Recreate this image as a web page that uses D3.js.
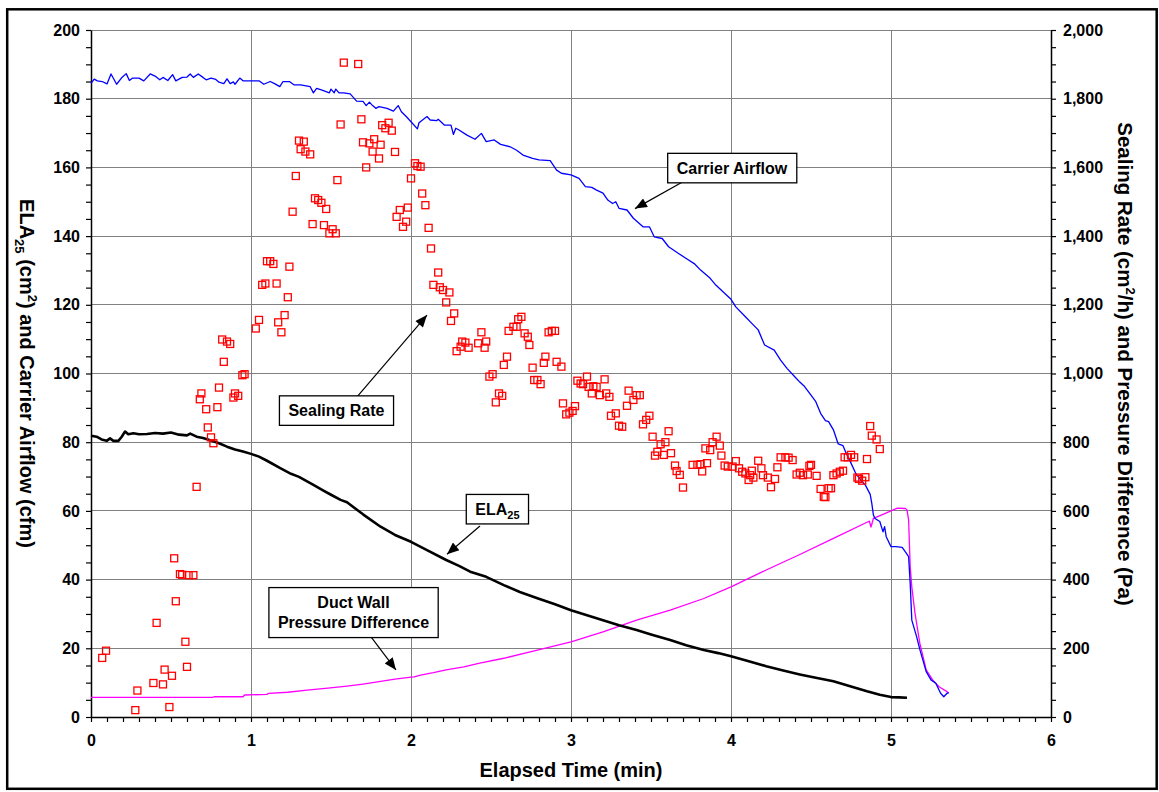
<!DOCTYPE html>
<html>
<head>
<meta charset="utf-8">
<script src="https://cdn.jsdelivr.net/npm/d3@7"></script>
<style>
  html, body { margin: 0; padding: 0; background: #fff; }
  svg { display: block; font-family: "Liberation Sans", Arial, sans-serif; }
</style>
</head>
<body>
<svg id="chart" width="1159" height="792"></svg>
<script>
// ---- Data: time in minutes ----
// Carrier airflow, cfm (left axis)
const carrierAirflow = [
  [0,184.5],[0.02,185.7],[0.04,185.2],[0.07,185.0],[0.1,184.3],[0.125,187.2],[0.145,185.5],[0.16,184.2],
  [0.19,186.0],[0.22,187.3],[0.24,185.3],[0.26,186.0],[0.3,186.0],[0.33,185.2],[0.37,187.2],[0.4,186.6],
  [0.43,185.5],[0.45,186.2],[0.48,185.3],[0.51,187.0],[0.53,185.2],[0.57,186.2],[0.6,186.3],[0.62,187.2],
  [0.64,186.2],[0.67,187.2],[0.7,186.2],[0.72,185.5],[0.75,186.0],[0.78,185.6],[0.8,184.8],[0.83,184.4],
  [0.85,185.8],[0.87,184.4],[0.89,184.9],[0.9,184.2],[0.93,186.0],[0.95,185.2],[1.0,185.2],[1.05,185.2],
  [1.08,184.2],[1.12,185.0],[1.15,184.3],[1.18,183.5],[1.2,185.0],[1.24,185.0],[1.27,184.0],[1.31,184.0],
  [1.37,183.5],[1.39,181.7],[1.41,183.0],[1.44,182.6],[1.49,181.7],[1.5,182.8],[1.52,181.7],[1.53,182.8],
  [1.55,181.7],[1.58,181.7],[1.62,181.4],[1.66,179.3],[1.7,179.2],[1.72,178.0],[1.74,179.0],[1.76,178.0],
  [1.78,177.2],[1.8,177.7],[1.85,177.2],[1.89,176.4],[1.92,178.0],[1.94,176.2],[1.97,174.8],[2.0,173.3],
  [2.04,171.2],[2.05,173.0],[2.1,174.8],[2.12,173.8],[2.16,173.6],[2.17,174.0],[2.21,172.3],[2.25,172.3],
  [2.265,169.6],[2.28,171.4],[2.3,170.9],[2.35,169.4],[2.4,168.2],[2.44,169.9],[2.47,167.5],[2.52,168.0],
  [2.56,166.7],[2.62,166.0],[2.66,165.0],[2.7,163.6],[2.76,162.6],[2.8,162.2],[2.87,162.0],[2.91,159.2],
  [2.94,158.3],[3.0,157.8],[3.05,156.8],[3.09,154.4],[3.13,154.2],[3.16,153.4],[3.2,152.5],[3.23,150.5],
  [3.26,149.5],[3.28,150.0],[3.3,148.1],[3.35,147.6],[3.39,145.2],[3.45,142.7],[3.49,142.7],[3.52,139.8],
  [3.57,139.3],[3.61,136.9],[3.67,135.0],[3.72,133.5],[3.77,132.0],[3.81,130.1],[3.87,127.7],[3.9,126.0],
  [3.95,123.8],[4.0,121.6],[4.03,119.4],[4.09,116.5],[4.13,114.6],[4.17,112.7],[4.21,108.3],[4.27,106.8],
  [4.31,103.9],[4.35,101.5],[4.4,99.0],[4.43,97.5],[4.46,96.2],[4.5,93.7],[4.53,91.8],[4.56,88.4],
  [4.59,86.3],[4.61,86.0],[4.64,83.6],[4.67,79.5],[4.7,79.0],[4.72,76.8],[4.75,73.9],[4.78,70.9],
  [4.81,69.0],[4.84,67.5],[4.87,64.8],[4.88,62.2],[4.89,58.8],[4.9,57.8],[4.93,56.9],[4.95,53.9],
  [4.96,55.4],[4.97,52.5],[5.0,49.6],[5.03,49.6],[5.07,49.4],[5.09,48.1],[5.11,46.7],[5.12,38.9],
  [5.13,28.2],[5.16,23.4],[5.18,19.7],[5.22,13.2],[5.25,10.8],[5.28,9.8],[5.31,6.9],[5.33,5.9],
  [5.35,6.9],[5.36,7.1]
];

// ELA25, cm² (left axis)
const ela25 = [
  [0,81.9],[0.035,81.6],[0.066,80.8],[0.098,80.4],[0.119,81.1],[0.14,80.4],[0.171,80.4],[0.192,81.6],
  [0.213,83.1],[0.233,82.3],[0.265,82.6],[0.3,82.3],[0.35,82.4],[0.4,82.7],[0.45,82.5],[0.5,82.8],
  [0.55,82.2],[0.6,82.0],[0.62,82.5],[0.66,81.6],[0.7,81.2],[0.75,80.5],[0.8,79.7],[0.85,78.7],
  [0.9,77.9],[0.95,77.3],[1.0,76.6],[1.05,75.8],[1.1,74.6],[1.18,72.5],[1.25,70.8],[1.3,69.9],
  [1.39,67.6],[1.45,66.0],[1.5,64.7],[1.56,63.2],[1.6,62.5],[1.7,59.0],[1.81,55.4],[1.9,53.0],
  [2.0,51.0],[2.1,48.6],[2.22,45.7],[2.3,44.0],[2.37,42.3],[2.47,40.8],[2.58,38.4],[2.68,36.4],
  [2.79,34.6],[2.9,32.8],[3.0,31.1],[3.1,29.6],[3.2,28.2],[3.3,26.7],[3.41,25.3],[3.5,24.0],
  [3.62,22.4],[3.72,20.9],[3.83,19.5],[3.92,18.6],[4.0,17.7],[4.1,16.4],[4.22,14.8],[4.32,13.6],
  [4.43,12.4],[4.53,11.4],[4.64,10.4],[4.75,8.9],[4.85,7.5],[4.93,6.5],[5.0,5.8],[5.05,5.7],[5.1,5.6]
];

// Duct wall pressure difference, Pa (right axis)
const pressureDiff = [
  [0,57],[0.76,57],[0.77,59],[0.95,59],[0.96,64],[1.1,66],[1.11,69],[1.23,72],[1.35,78],[1.48,84],
  [1.6,90],[1.7,96],[1.8,103],[1.9,110],[2.0,116],[2.02,117],[2.06,122],[2.14,129],[2.22,137],
  [2.33,146],[2.43,157],[2.58,171],[2.79,195],[3.0,219],[3.2,248],[3.41,282],[3.62,311],[3.83,345],
  [4.0,379],[4.22,428],[4.43,473],[4.64,520],[4.85,567],[4.865,570],[4.875,553],[4.89,578],[4.95,590],
  [5.0,600],[5.04,608],[5.09,607],[5.1,603],[5.11,574],[5.12,438],[5.13,379],[5.15,302],[5.18,215],
  [5.22,137],[5.26,108],[5.3,88],[5.35,74],[5.36,69]
];

// Sealing rate, cm²/h (right axis)
const sealingRate = [
  [0.07,172],[0.094,193],[0.277,20],[0.29,77],[0.39,99],[0.41,274],[0.45,95],[0.46,138],[0.49,29],
  [0.506,120],[0.52,462],[0.53,337],[0.556,416],[0.57,414],[0.59,219],[0.60,146],[0.61,413],[0.64,413],
  [0.66,670],[0.68,925],[0.69,942],[0.72,896],[0.73,843],[0.75,814],[0.765,797],[0.79,902],[0.80,959],
  [0.82,1099],[0.83,1034],[0.85,1093],[0.87,1086],[0.89,930],[0.90,942],[0.92,935],[0.946,995],[0.96,998],
  [1.03,1131],[1.05,1156],[1.07,1258],[1.09,1262],[1.10,1327],[1.12,1327],[1.14,1319],[1.16,1262],
  [1.17,1149],[1.19,1120],[1.21,1170],[1.23,1222],[1.24,1311],[1.26,1471],[1.28,1575],[1.30,1678],
  [1.31,1653],[1.33,1675],[1.34,1646],[1.37,1638],[1.385,1435],[1.40,1510],[1.42,1505],[1.44,1497],
  [1.456,1432],[1.47,1479],[1.49,1408],[1.51,1420],[1.53,1408],[1.54,1563],[1.56,1725],[1.58,1905],
  [1.67,1901],[1.69,1740],[1.70,1673],[1.72,1600],[1.74,1670],[1.76,1646],[1.77,1682],[1.80,1626],
  [1.81,1666],[1.82,1723],[1.84,1714],[1.86,1730],[1.88,1707],[1.90,1645],[1.91,1456],[1.93,1476],
  [1.95,1427],[1.97,1442],[1.98,1483],[2.0,1568],[2.025,1612],[2.04,1604],[2.06,1602],[2.07,1524],
  [2.09,1490],[2.11,1424],[2.125,1364],[2.14,1258],[2.17,1294],[2.18,1251],[2.20,1243],[2.22,1207],
  [2.24,1236],[2.25,1153],[2.27,1175],[2.285,1065],[2.31,1078],[2.32,1093],[2.34,1090],[2.36,1075],
  [2.42,1088],[2.44,1120],[2.46,1075],[2.47,1093],[2.49,991],[2.51,998],[2.53,916],[2.55,942],
  [2.57,935],[2.58,1025],[2.60,1049],[2.61,1124],[2.64,1136],[2.66,1136],[2.67,1158],[2.69,1165],
  [2.71,1117],[2.73,1107],[2.74,1083],[2.76,1017],[2.77,981],[2.79,981],[2.81,969],[2.83,1031],
  [2.84,1049],[2.86,1120],[2.88,1124],[2.90,1124],[2.91,1034],[2.94,1020],[2.95,913],[2.97,881],
  [2.99,886],[3.01,891],[3.025,905],[3.04,979],[3.06,971],[3.075,969],[3.10,991],[3.11,961],
  [3.13,942],[3.14,963],[3.16,961],[3.18,937],[3.21,983],[3.22,942],[3.24,932],[3.25,877],
  [3.28,884],[3.30,848],[3.32,845],[3.35,906],[3.36,950],[3.39,923],[3.41,937],[3.43,937],
  [3.45,852],[3.47,865],[3.49,877],[3.51,816],[3.525,761],[3.54,772],[3.56,794],[3.58,763],
  [3.59,800],[3.61,832],[3.625,768],[3.65,732],[3.66,716],[3.68,705],[3.70,668],[3.76,734],
  [3.79,734],[3.81,736],[3.82,715],[3.84,782],[3.85,739],[3.87,777],[3.885,800],[3.91,816],
  [3.93,790],[3.94,761],[3.96,732],[3.98,729],[4.01,729],[4.03,745],[4.05,724],[4.07,714],
  [4.09,709],[4.11,690],[4.12,704],[4.13,717],[4.14,697],[4.17,746],[4.19,724],[4.20,704],
  [4.23,697],[4.25,669],[4.275,693],[4.29,727],[4.31,756],[4.34,756],[4.36,755],[4.385,748],
  [4.41,706],[4.43,711],[4.45,704],[4.48,706],[4.49,731],[4.50,734],[4.535,702],[4.56,664],
  [4.58,641],[4.59,640],[4.61,666],[4.625,666],[4.64,704],[4.66,709],[4.68,714],[4.70,717],
  [4.71,756],[4.73,756],[4.75,763],[4.77,756],[4.79,697],[4.80,693],[4.82,688],[4.84,698],
  [4.85,751],[4.87,847],[4.88,819],[4.91,808],[4.93,780]
];

// Axis tick values
const xMajorTicks = [0, 1, 2, 3, 4, 5, 6];
const leftMajorTicks = [0, 20, 40, 60, 80, 100, 120, 140, 160, 180, 200];
const rightMajorTicks = [0, 200, 400, 600, 800, 1000, 1200, 1400, 1600, 1800, 2000];

// Callouts: box centre, arrow start and arrow tip in (minutes, left-axis units)
const callouts = [
  { lines: ["Carrier Airflow"], box: [4.006, 159.8], from: [3.694, 155.7], to: [3.40, 148.0] },
  { lines: ["Sealing Rate"], box: [1.534, 89.2], from: [1.6625, 93.2], to: [2.10, 117.0] },
  { lines: ["ELA|25"], box: [2.54, 60.5], from: [2.431, 55.6], to: [2.225, 47.4] },
  { lines: ["Duct Wall", "Pressure Difference"], box: [1.6406, 30.4], from: [1.75, 23.3], to: [1.906, 13.7] }
];

// ---- Layout ----
const plot = { left: 91, right: 1051, top: 30, bottom: 717 };
const svg = d3.select("#chart");
const FONT = '"Liberation Sans", Arial, sans-serif';

const x = d3.scaleLinear().domain([0, 6]).range([plot.left, plot.right]);
const yL = d3.scaleLinear().domain([0, 200]).range([plot.bottom, plot.top]);
const yR = d3.scaleLinear().domain([0, 2000]).range([plot.bottom, plot.top]);

// outer frame
svg.append("rect")
  .attr("x", 7.2).attr("y", 9.3).attr("width", 1149.5).attr("height", 779.5)
  .attr("fill", "#fff").attr("stroke", "#000").attr("stroke-width", 2.5);

// gridlines
const grid = svg.append("g").attr("shape-rendering", "crispEdges")
  .attr("stroke", "#808080").attr("stroke-width", 1);
grid.selectAll("line.h").data(leftMajorTicks.filter(d => d > 0)).join("line")
  .attr("class", "h")
  .attr("x1", plot.left).attr("x2", plot.right)
  .attr("y1", d => yL(d)).attr("y2", d => yL(d));
grid.selectAll("line.v").data(xMajorTicks.filter(d => d > 0 && d < 6)).join("line")
  .attr("class", "v")
  .attr("x1", d => x(d)).attr("x2", d => x(d))
  .attr("y1", plot.top).attr("y2", plot.bottom);

// axes
function styleAxis(g) {
  g.selectAll("path.domain").attr("stroke", "#000").attr("stroke-width", 1.5);
  g.selectAll(".tick line").attr("stroke", "#000").attr("stroke-width", 1.2);
  g.selectAll(".tick text")
    .attr("fill", "#000").style("font-family", FONT)
    .style("font-size", "16px").style("font-weight", "bold");
}

const leftAxis = d3.axisLeft(yL)
  .tickValues(d3.range(0, 201, 5))
  .tickFormat(d => leftMajorTicks.includes(d) ? d : "")
  .tickSize(5).tickSizeOuter(0).tickPadding(6);
svg.append("g").attr("transform", `translate(${plot.left},0)`).call(leftAxis).call(styleAxis);

const rightAxis = d3.axisRight(yR)
  .tickValues(d3.range(0, 2001, 50))
  .tickFormat(d => rightMajorTicks.includes(d) ? d3.format(",")(d) : "")
  .tickSize(5).tickSizeOuter(0).tickPadding(7);
svg.append("g").attr("transform", `translate(${plot.right},0)`).call(rightAxis).call(styleAxis);

const bottomAxis = d3.axisBottom(x)
  .tickValues(d3.range(0, 61).map(i => i / 10))
  .tickFormat(d => xMajorTicks.includes(Math.round(d * 10) / 10) ? d3.format("d")(d) : "")
  .tickSize(5).tickSizeOuter(0).tickPadding(13);
svg.append("g").attr("transform", `translate(0,${plot.bottom})`).call(bottomAxis).call(styleAxis);

// axis titles
const titleStyle = s => s.attr("fill", "#000").style("font-family", FONT)
  .style("font-size", "20px").style("font-weight", "bold");

svg.append("text").call(titleStyle)
  .attr("x", (plot.left + plot.right) / 2).attr("y", 777)
  .attr("text-anchor", "middle").text("Elapsed Time (min)");

const lt = svg.append("text").call(titleStyle)
  .attr("text-anchor", "middle")
  .attr("transform", `translate(19.5,${(plot.top + plot.bottom) / 2}) rotate(90)`);
lt.append("tspan").text("ELA");
lt.append("tspan").attr("dy", 5).style("font-size", "13px").text("25");
lt.append("tspan").attr("dy", -5).text(" (cm");
lt.append("tspan").attr("dy", -8).style("font-size", "13px").text("2");
lt.append("tspan").attr("dy", 8).text(") and Carrier Airflow (cfm)");

const rt = svg.append("text").call(titleStyle)
  .attr("text-anchor", "middle")
  .attr("transform", `translate(1118,364) rotate(90)`)
  .style("font-size", "20.5px");
rt.append("tspan").text("Sealing Rate (cm");
rt.append("tspan").attr("dy", -8).style("font-size", "13px").text("2");
rt.append("tspan").attr("dy", 8).text("/h) and Pressure Difference (Pa)");

// series lines
const lineL = d3.line().x(d => x(d[0])).y(d => yL(d[1]));
const lineR = d3.line().x(d => x(d[0])).y(d => yR(d[1]));

svg.append("path").datum(pressureDiff)
  .attr("d", lineR).attr("fill", "none")
  .attr("stroke", "#ff00ff").attr("stroke-width", 1.3).attr("stroke-linejoin", "round");

svg.append("path").datum(carrierAirflow)
  .attr("d", lineL).attr("fill", "none")
  .attr("stroke", "#0000ff").attr("stroke-width", 1.3).attr("stroke-linejoin", "round");

svg.append("path").datum(ela25)
  .attr("d", lineL).attr("fill", "none")
  .attr("stroke", "#000").attr("stroke-width", 2.6).attr("stroke-linejoin", "round");

// sealing rate markers
const sq = 7;
svg.append("g").selectAll("rect").data(sealingRate).join("rect")
  .attr("x", d => x(d[0]) - sq / 2).attr("y", d => yR(d[1]) - sq / 2)
  .attr("width", sq).attr("height", sq)
  .attr("fill", "none").attr("stroke", "#ff0000").attr("stroke-width", 1.3);

// callouts
svg.append("defs").append("marker")
  .attr("id", "arrowHead").attr("viewBox", "0 0 12 10")
  .attr("refX", 12).attr("refY", 5)
  .attr("markerWidth", 14).attr("markerHeight", 10)
  .attr("markerUnits", "userSpaceOnUse").attr("orient", "auto")
  .append("path").attr("d", "M0,0 L12,5 L0,10 Z").attr("fill", "#000");

callouts.forEach(c => {
  svg.append("line")
    .attr("x1", x(c.from[0])).attr("y1", yL(c.from[1]))
    .attr("x2", x(c.to[0])).attr("y2", yL(c.to[1]))
    .attr("stroke", "#000").attr("stroke-width", 1.2)
    .attr("marker-end", "url(#arrowHead)");

  const g = svg.append("g");
  const box = g.append("rect").attr("fill", "#fff").attr("stroke", "#000").attr("stroke-width", 1.3);
  const cx = x(c.box[0]), cy = yL(c.box[1]);
  const lineH = 20.5;
  const t = g.append("text")
    .attr("text-anchor", "middle").attr("fill", "#000")
    .style("font-family", FONT).style("font-size", "16px").style("font-weight", "bold");
  c.lines.forEach((ln, i) => {
    const yy = cy + (i - (c.lines.length - 1) / 2) * lineH + 5.5;
    if (ln.includes("|")) {
      const [main, sub] = ln.split("|");
      t.append("tspan").attr("x", cx).attr("y", yy).text(main);
      t.append("tspan").attr("dy", 4).style("font-size", "11px").text(sub);
    } else {
      t.append("tspan").attr("x", cx).attr("y", yy).text(ln);
    }
  });
  const bb = t.node().getBBox();
  const padX = 9, padY = 4;
  const h = c.lines.length * lineH + 2 * padY + 1;
  box.attr("x", bb.x - padX).attr("y", cy - h / 2)
     .attr("width", bb.width + 2 * padX).attr("height", h);
});
</script>
</body>
</html>
